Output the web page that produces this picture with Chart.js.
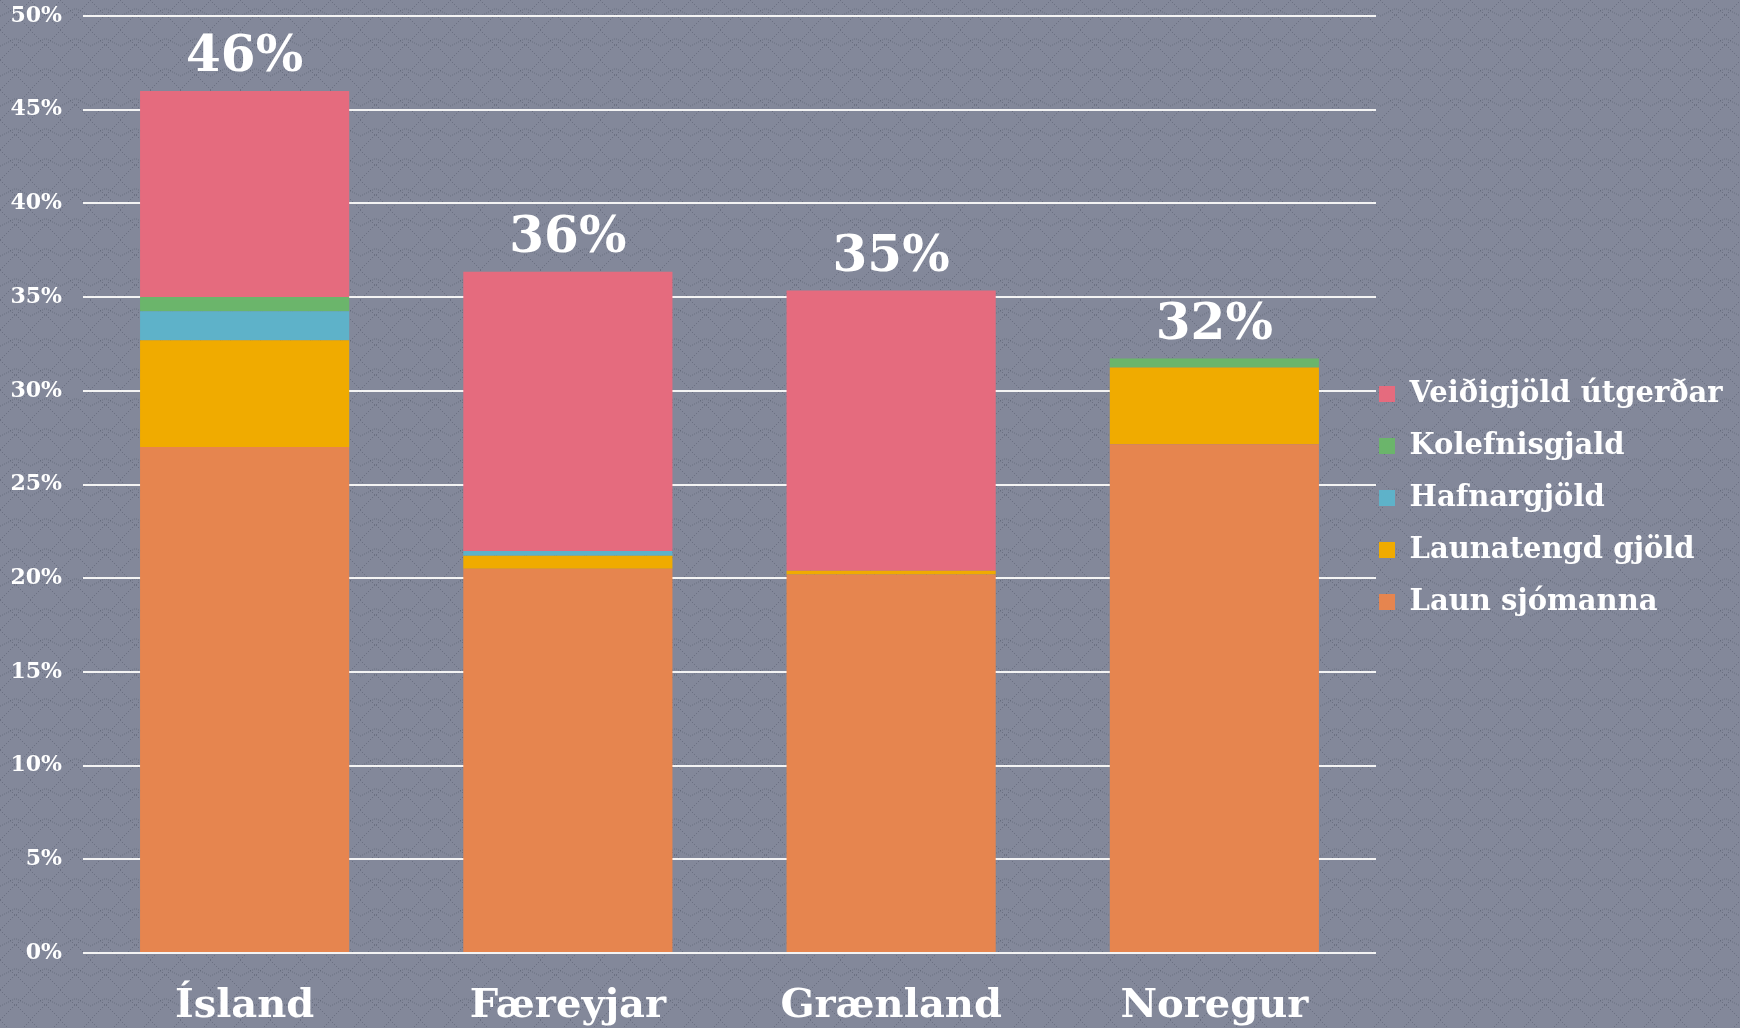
<!DOCTYPE html>
<html>
<head>
<meta charset="utf-8">
<script src="https://cdn.jsdelivr.net/npm/chart.js@4.4.1/dist/chart.umd.min.js"></script>
<style>
  html, body { margin: 0; padding: 0; background: #7e8393; }
  #wrap { width: 1740px; height: 1028px; }
</style>
</head>
<body>
<div id="wrap"><canvas id="kostnadurChart" width="1740" height="1028"></canvas></div>
<script>
// Gögn lesin af myndinni (% af aflaverðmæti)
const lond = ['Ísland', 'Færeyjar', 'Grænland', 'Noregur'];
const launSjomanna = [27.0, 20.5, 20.2, 27.15];
const launatengdGjold = [5.7, 0.7, 0.2, 4.1];
const hafnargjold = [1.55, 0.25, 0, 0];
const kolefnisgjald = [0.75, 0, 0, 0.47];
const veidigjold = [11.0, 14.9, 14.95, 0];
const yTikk = [0, 5, 10, 15, 20, 25, 30, 35, 40, 45, 50];

const letur = "'DejaVu Serif', 'Liberation Serif', serif";
const skyringLetur = 29;

// mæla breidd lengsta texta í skýringum svo myndsvæðið endi á réttum stað
const maeling = document.createElement('canvas').getContext('2d');
maeling.font = 'bold ' + skyringLetur + 'px ' + letur;
const lengstiTexti = maeling.measureText('Veiðigjöld útgerðar').width;
const haegriBil = 1740 - 1376 - (23 + 16 + skyringLetur / 2 + lengstiTexti + 10);

// Mynstur í bakgrunni (tíglar)
function buaTilMynstur() {
    const c = document.createElement('canvas');
    c.width = 30; c.height = 30;
    const g = c.getContext('2d');
    g.fillStyle = '#83889a';
    g.fillRect(0, 0, 30, 30);
    g.fillStyle = 'rgba(92, 97, 115, 0.6)';
    for (let i = 0; i < 30; i += 2) {
        g.fillRect(i, 15 - Math.abs(15 - i), 1, 1);
        g.fillRect(i, 15 + Math.abs(15 - i) - 1, 1, 1);
        g.fillRect(i, 8 + Math.abs(15 - i) / 2, 1, 1);
    }
    return g.createPattern(c, 'repeat');
}

const bakgrunnur = {
    id: 'bakgrunnur',
    beforeDraw(chart) {
        const ctx = chart.ctx;
        ctx.save();
        ctx.fillStyle = buaTilMynstur();
        ctx.fillRect(0, 0, chart.width, chart.height);
        ctx.restore();
    }
};

// Setja skýringar við hlið myndsvæðis
const skyringarStada = {
    id: 'skyringarStada',
    afterLayout(chart) {
        const l = chart.legend;
        const breidd = l.right - l.left;
        l.left = chart.chartArea.right - 20;
        l.right = l.left + breidd;
        const haed = l.bottom - l.top;
        l.top = 392 - skyringLetur / 2 - 23 + 2;
        l.bottom = l.top + haed;
    }
};

// Samtölur ofan á súlum
const samtolur = {
    id: 'samtolur',
    afterDatasetsDraw(chart) {
        const ctx = chart.ctx;
        const y = chart.scales.y;
        const meta = chart.getDatasetMeta(0);
        ctx.save();
        ctx.fillStyle = '#ffffff';
        ctx.font = 'bold 50px ' + letur;
        ctx.textAlign = 'center';
        ctx.textBaseline = 'bottom';
        lond.forEach((land, i) => {
            const samtala = launSjomanna[i] + launatengdGjold[i] + hafnargjold[i] + kolefnisgjald[i] + veidigjold[i];
            ctx.fillText(Math.round(samtala) + '%', meta.data[i].x, y.getPixelForValue(samtala) - 8);
        });
        ctx.restore();
    }
};

const ctx = document.getElementById('kostnadurChart').getContext('2d');
new Chart(ctx, {
    type: 'bar',
    data: {
        labels: lond,
        datasets: [
            { label: 'Laun sjómanna', data: launSjomanna, backgroundColor: '#e6854f' },
            { label: 'Launatengd gjöld', data: launatengdGjold, backgroundColor: '#f0ab00' },
            { label: 'Hafnargjöld', data: hafnargjold, backgroundColor: '#5eb2c9' },
            { label: 'Kolefnisgjald', data: kolefnisgjald, backgroundColor: '#6bb56b' },
            { label: 'Veiðigjöld útgerðar', data: veidigjold, backgroundColor: '#e56b7e' }
        ]
    },
    options: {
        responsive: false,
        animation: false,
        layout: { padding: { top: 16, right: haegriBil, left: 0, bottom: 0 } },
        datasets: { bar: { categoryPercentage: 1, barPercentage: 0.647, borderWidth: 0 } },
        plugins: {
            legend: {
                position: 'right',
                align: 'start',
                reverse: true,
                labels: {
                    color: '#ffffff',
                    font: { family: letur, size: skyringLetur, weight: 'bold' },
                    boxWidth: 16,
                    boxHeight: 16,
                    padding: 23
                }
            },
            tooltip: { enabled: false }
        },
        scales: {
            x: {
                stacked: true,
                grid: { display: false },
                border: { display: false },
                ticks: {
                    color: '#ffffff',
                    font: { family: letur, size: 40, weight: 'bold' },
                    padding: 22
                },
                afterFit(scale) { scale.height = 75; }
            },
            y: {
                stacked: true,
                min: 0,
                max: 50,
                afterBuildTicks(scale) { scale.ticks = yTikk.map(v => ({ value: v })); },
                grid: { color: '#f4f4f4', lineWidth: 2, drawTicks: true, tickLength: 21, tickColor: 'rgba(0,0,0,0)' },
                border: { display: false },
                ticks: {
                    color: '#ffffff',
                    font: { family: letur, size: 22, weight: 'bold' },
                    padding: 0,
                    callback: v => v + '%'
                },
                afterFit(scale) { scale.width = 83; }
            }
        }
    },
    plugins: [bakgrunnur, skyringarStada, samtolur]
});
</script>
</body>
</html>
